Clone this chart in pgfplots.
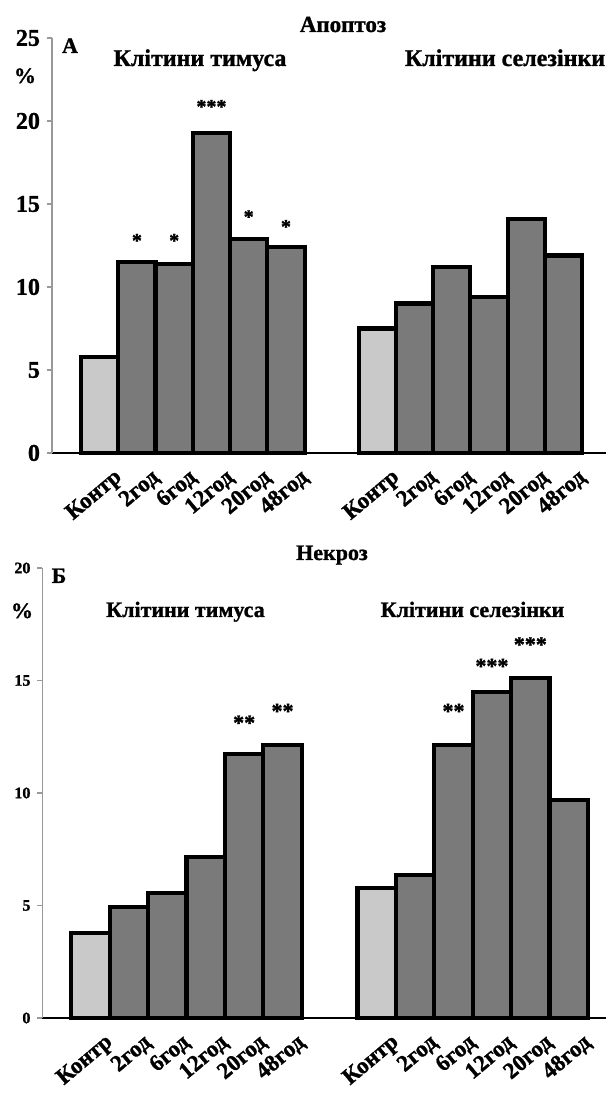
\documentclass[border=0pt]{standalone}
\usepackage{fontspec}
\setmainfont{Liberation Serif}[BoldFeatures={FakeBold=1.2}]
\usepackage{pgfplots}
\pgfplotsset{compat=1.18}
\definecolor{lightbar}{HTML}{C9C9C9}
\definecolor{darkbar}{HTML}{7A7A7A}
\begin{document}
\begin{tikzpicture}
\useasboundingbox (0,0) rectangle (303pt,547.5pt);
\pgfplotsset{
 mybars/.style={
  scale only axis, axis lines=left,
  x axis line style={-, black, line width=1pt},
  y axis line style={-, black!40, line width=0.6pt},
  ytick style={black!40, line width=0.6pt},
  ytick align=outside, major tick length=2.5pt,
  xtick style={draw=none},
  xtick={0,1,2,3,4,5,7.45,8.45,9.45,10.45,11.45,12.45},
  xticklabels={Контр,2год,6год,12год,20год,48год,Контр,2год,6год,12год,20год,48год},
  xticklabel style={font=\fontsize{11.5}{12}\selectfont\bfseries, xshift=12.5pt, yshift=-7.5pt, rotate=40, anchor=east},
  /pgf/number format/assume math mode=true,
  clip=false,
 },
 mybar/.style={ybar, bar width=1, bar shift=0pt, draw=black, line width=2.1pt},
 mystars/.style={only marks, mark=*, mark size=0pt, mark options={draw=none, fill=none},
  nodes near coords, point meta=explicit symbolic,
  nodes near coords style={anchor=base, yshift=-5pt, inner sep=0pt, font=#1}},
}
% ---------- top panel: apoptosis
\begin{axis}[mybars, at={(26pt,321pt)}, anchor=south west, width=277pt, height=207.5pt,
  xmin=-1.28, xmax=13.59, ymin=0, ymax=25, ytick={0,5,10,15,20,25},
  yticklabel style={font=\fontsize{12}{13}\selectfont\bfseries}]
\addplot[mybar, fill=lightbar] coordinates {(0,5.8) (7.45,7.5)};
\addplot[mybar, fill=darkbar] coordinates {(1,11.5) (2,11.4) (3,19.3) (4,12.9) (5,12.4)
  (8.45,9.0) (9.45,11.2) (10.45,9.4) (11.45,14.1) (12.45,11.9)};
\addplot[mystars={\fontsize{10}{12}\selectfont\bfseries}] coordinates {(1,13.0)[*] (2,13.0)[*] (3,21.07)[***] (4,14.43)[*] (5,13.84)[*]};
\end{axis}
% ---------- bottom panel: necrosis
\begin{axis}[mybars, at={(21.25pt,38.5pt)}, anchor=south west, width=281.75pt, height=225pt,
  xmin=-1.25, xmax=13.42, ymin=0, ymax=20, ytick={0,5,10,15,20},
  yticklabel style={font=\fontsize{8}{9}\selectfont\bfseries}]
\addplot[mybar, fill=lightbar] coordinates {(0,3.78) (7.45,5.78)};
\addplot[mybar, fill=darkbar] coordinates {(1,4.93) (2,5.56) (3,7.14) (4,11.73) (5,12.13)
  (8.45,6.36) (9.45,12.13) (10.45,14.5) (11.45,15.1) (12.45,9.69)};
\addplot[mystars={\fontsize{11}{12}\selectfont\bfseries}] coordinates {(4,13.24)[**] (5,13.76)[**] (9.45,13.76)[**] (10.45,15.76)[***] (11.45,16.72)[***]};
\end{axis}
% ---------- titles
\begin{scope}[every node/.style={inner sep=0pt, font=\bfseries}]
\node[anchor=base, font=\fontsize{11.5}{13}\selectfont\bfseries] at (171.5pt,531.5pt) {Апоптоз};
\node[anchor=base, font=\fontsize{11}{13}\selectfont\bfseries] at (35pt,521pt) {А};
\node[anchor=base, font=\fontsize{11}{13}\selectfont\bfseries] at (12.5pt,506pt) {\%};
\node[anchor=base, font=\fontsize{12}{13}\selectfont\bfseries] at (100pt,514.5pt) {Клітини тимуса};
\node[anchor=base, font=\fontsize{12}{13}\selectfont\bfseries] at (252.5pt,514.5pt) {Клітини селезінки};
\node[anchor=base, font=\fontsize{11}{13}\selectfont\bfseries] at (166pt,267.5pt) {Некроз};
\node[anchor=base, font=\fontsize{11}{13}\selectfont\bfseries] at (29.5pt,256pt) {Б};
\node[anchor=base, font=\fontsize{11}{13}\selectfont\bfseries] at (11pt,238.5pt) {\%};
\node[anchor=base, font=\fontsize{11}{13}\selectfont\bfseries] at (92.75pt,239pt) {Клітини тимуса};
\node[anchor=base, font=\fontsize{11}{13}\selectfont\bfseries] at (236.25pt,239pt) {Клітини селезінки};
\end{scope}
\end{tikzpicture}
\end{document}
